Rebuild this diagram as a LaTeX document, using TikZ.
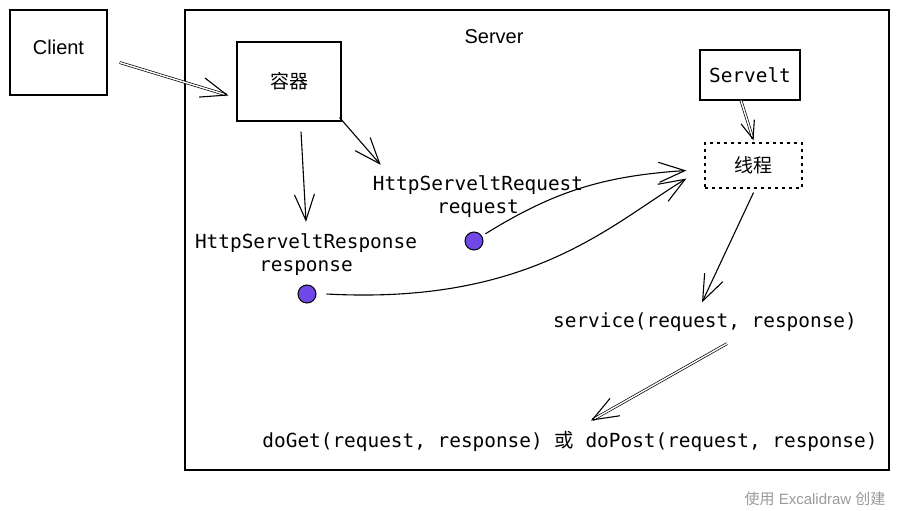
\documentclass[tikz,border=0pt]{standalone}
\usepackage{fontspec}
\setmainfont{Liberation Sans}
\setmonofont{DejaVu Sans Mono}
\newfontfamily\cjk{Noto Sans CJK SC}
\usetikzlibrary{arrows.meta}
\definecolor{dotviolet}{HTML}{7048E8}
\definecolor{markgray}{HTML}{9A9A9A}

\begin{document}
\begin{tikzpicture}[x=1pt, y=-1pt,
    box/.style={draw=black, line width=1.2pt, inner sep=0pt,
        font=\fontsize{20}{24}\selectfont},
    threadbox/.style={draw=black, line width=1.2pt, dash pattern=on 3pt off 4pt,
        inner sep=0pt, font=\cjk\fontsize{19}{23}\selectfont},
    codetext/.style={font=\ttfamily\fontsize{19.4}{23}\selectfont,
        align=center, inner sep=0pt},
    dot/.style={circle, draw=black, line width=1pt, fill=dotviolet,
        minimum size=18pt, inner sep=0pt},
    edge/.style={line width=1.1pt, -{Straight Barb[length=26pt,width=20pt]}},
    dbledge/.style={double, double distance=1.4pt, line width=0.7pt,
        -{Straight Barb[length=26pt,width=20pt,line width=1.1pt]}}
]
    \useasboundingbox (0,0) rectangle (899,511);
    \node[box, minimum width=97pt, minimum height=85pt] (client) at (58.5,52.5) {\raisebox{10pt}{Client}};
    \node[box, minimum width=704pt, minimum height=460pt] (server) at (537,240) {};
    \node[font=\fontsize{20}{24}\selectfont] (servertitle) at (494,37) {Server};
    \node[box, minimum width=104pt, minimum height=79pt,
        font=\cjk\fontsize{19}{23}\selectfont] (rongqi) at (289,81.5) {容器};
    \node[box, codetext, minimum width=100pt, minimum height=50pt] (servelt) at (750,75) {Servelt};
    \node[threadbox, minimum width=97pt, minimum height=45pt] (xiancheng) at (753.5,165.5) {线程};
    \node[codetext] (reqlabel) at (478,197) {HttpServeltRequest\\request};
    \node[codetext] (resplabel) at (306,255) {HttpServeltResponse\\response};
    \node[dot] (reqdot) at (474,241) {};
    \node[dot] (respdot) at (307,294) {};
    \node[codetext] (service) at (705,322) {service(request, response)};
    \node[codetext] (calls) at (570,441) {doGet(request, response) {\cjk 或} doPost(request, response)};
    \node[font=\fontsize{15}{18}\selectfont, text=markgray, anchor=east] (mark) at (889,499)
        {{\cjk 使用} Excalidraw {\cjk 创建}};

    \draw[dbledge] ([shift={(12pt,-10pt)}]client.east) -- ([shift={(-8pt,-14pt)}]rongqi.west);
    \draw[edge] ([shift={(12pt,-10pt)}]rongqi.south) -- ([shift={(0pt,12pt)}]resplabel.north);
    \draw[edge] ([shift={(-2pt,4pt)}]rongqi.south east) -- ([shift={(8pt,11pt)}]reqlabel.north west);
    \draw[edge, shorten <=4pt] (reqdot) to[bend left=14] ([shift={(-18pt,-5pt)}]xiancheng.west);
    \draw[edge] ([xshift=10pt]respdot.east) .. controls (530,305) and (610,225)
        .. ([shift={(-18pt,-13pt)}]xiancheng.west);
    \draw[dbledge, -{Straight Barb[length=18pt,width=14pt,line width=1.1pt]}]
        ([xshift=-9pt]servelt.south) -- ([yshift=2pt]xiancheng.north);
    \draw[edge] ([yshift=-4pt]xiancheng.south) -- ([shift={(-3pt,10pt)}]service.north);
    \draw[dbledge] ([shift={(22pt,-12pt)}]service.south) -- ([shift={(21pt,10pt)}]calls.north);
\end{tikzpicture}
\end{document}
